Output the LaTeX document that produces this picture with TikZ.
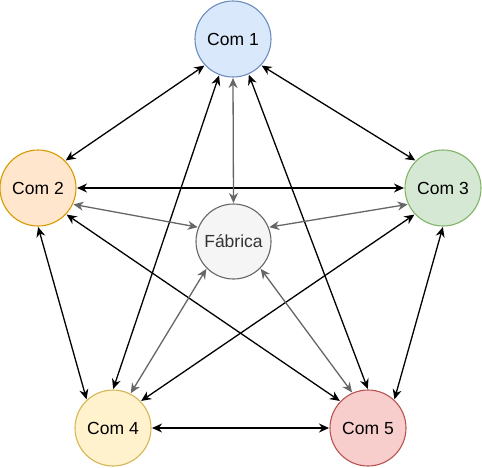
\documentclass[tikz,border=0pt]{standalone}
\usepackage{fontspec}
\setmainfont{Liberation Sans}
\usetikzlibrary{arrows.meta}
\definecolor{bluefill}{HTML}{DAE8FC}
\definecolor{bluedraw}{HTML}{6C8EBF}
\definecolor{orangefill}{HTML}{FFE6CC}
\definecolor{orangedraw}{HTML}{D79B00}
\definecolor{greenfill}{HTML}{D5E8D4}
\definecolor{greendraw}{HTML}{82B366}
\definecolor{yellowfill}{HTML}{FFF2CC}
\definecolor{yellowdraw}{HTML}{D6B656}
\definecolor{redfill}{HTML}{F8CECC}
\definecolor{reddraw}{HTML}{B85450}
\definecolor{grayfill}{HTML}{F5F5F5}
\definecolor{graydraw}{HTML}{666666}
\definecolor{graytext}{HTML}{333333}
\tikzstyle{com state}=[
    draw,
    line width = 1.1pt,
    minimum size = 76pt,
    inner sep = 0pt,
    circle,
    font = \fontsize{17.5}{20}\selectfont
]

\begin{document}
\begin{tikzpicture}[x=1pt, y=-1pt,
    link/.style = {line width=1.3pt, {Stealth[length=10pt,width=9pt]}-{Stealth[length=10pt,width=9pt]}, shorten <=0.5pt, shorten >=0.5pt},
    grey link/.style = {link, draw=graydraw}]
        \useasboundingbox (0,0) rectangle (482,467);

        \node[com state, fill=bluefill, draw=bluedraw] (c1) at (233,39) {Com 1};
        \node[com state, fill=orangefill, draw=orangedraw] (c2) at (38,188) {Com 2};
        \node[com state, fill=greenfill, draw=greendraw] (c3) at (443,188) {Com 3};
        \node[com state, fill=yellowfill, draw=yellowdraw] (c4) at (113,428) {Com 4};
        \node[com state, fill=redfill, draw=reddraw] (c5) at (368,428) {Com 5};
        \node[com state, fill=grayfill, draw=graydraw, text=graytext, minimum size=75pt] (fab) at (233.5,241.5) {Fábrica};

        % com to com
        \draw[link] (c1.223) -- (c2.45);
        \draw[link] (c1.-43) -- (c3.135);
        \draw[link] (c1.-111) -- (c4.north);
        \draw[link] (c1.-66) -- (c5.north);
        \draw[link] (c2) -- (c3);
        \draw[link] (c2.south) -- (c4.133);
        \draw[link] (c2.-43) -- (c5.136);
        \draw[link] (c3.-137) -- (c4.44);
        \draw[link] (c3.south) -- (c5.47);
        \draw[link] (c4) -- (c5);

        % fabrica
        \draw[grey link] (fab.north) -- (c1.south);
        \draw[grey link] (fab.158) -- (c2.-25);
        \draw[grey link] (fab.22) -- (c3.-155);
        \draw[grey link] (fab.-135) -- (c4.63);
        \draw[grey link] (fab.-45) -- (c5.114);

    \end{tikzpicture}
\end{document}
